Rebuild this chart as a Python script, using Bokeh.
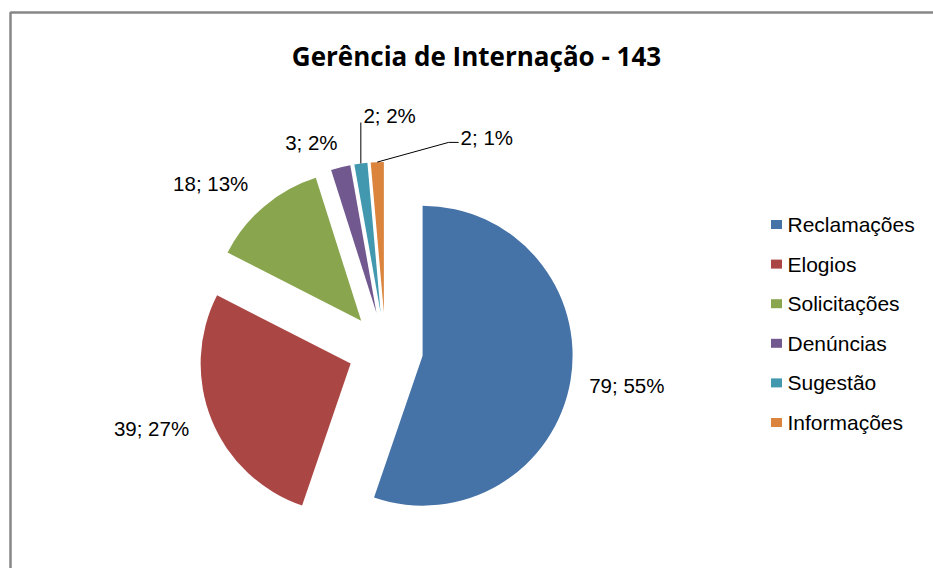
import numpy as np
from bokeh.plotting import figure
from bokeh.models import Range1d
from bokeh.core.properties import value
from bokeh.embed import file_html
from bokeh.resources import INLINE

# ---- data ----
categories = ["Reclamações", "Elogios", "Solicitações", "Denúncias", "Sugestão", "Informações"]
counts = [79, 39, 18, 3, 2, 2]
pct_labels = ["55%", "27%", "13%", "2%", "2%", "1%"]
colors = ["#4572A7", "#AA4643", "#89A54E", "#71588F", "#4198AF", "#DB843D"]
title_text = "Gerência de Internação - 143"

# ---- layout helpers (screen px -> data units, 1:1) ----
W, H = 933, 568
def X(sx):
    return sx
def Y(sy):
    return H - sy

p = figure(width=W, height=H, x_range=Range1d(0, W), y_range=Range1d(0, H),
           output_backend="svg", toolbar_location=None, min_border=0)
p.axis.visible = False
p.grid.visible = False
p.outline_line_color = None
p.background_fill_color = "white"
p.border_fill_color = "white"

# chart border (top and left visible, rest cropped)
p.line([X(10), X(10), X(945)], [Y(600), Y(12), Y(12)], line_color="#878787", line_width=2.5)

# ---- pie ----
vals = np.array(counts, dtype=float)
frac = vals / vals.sum()
cum = np.concatenate([[0.0], np.cumsum(frac)]) * 360.0
a0, a1 = cum[:-1], cum[1:]
mid = (a0 + a1) / 2.0
cx, cy = X(385), Y(349)
R = 150.0
D = 37.6
mrad = np.radians(mid)
ex = cx + D * np.sin(mrad)
ey = cy + D * np.cos(mrad)
p.wedge(x=list(ex), y=list(ey), radius=R,
        start_angle=list(np.radians(90 - a1)), end_angle=list(np.radians(90 - a0)),
        direction="anticlock", fill_color=colors, line_color=None)

# ---- data labels ----
labels = [f"{c}; {pc}" for c, pc in zip(counts, pct_labels)]
lab_theta = np.radians([98.5, 251.3, 313.5, 340.3, 354.6, 19.5])
lab_r = [244, 247, 241, 220, 235, 225]
lab_align = ["center", "center", "center", "center", "left", "left"]
lx = cx + np.array(lab_r) * np.sin(lab_theta)
ly = cy + np.array(lab_r) * np.cos(lab_theta)
for i in range(len(labels)):
    p.text(x=[lx[i]], y=[ly[i]], text=[labels[i]], text_font=value("Liberation Sans"),
           text_font_size="20.5px", text_align=lab_align[i], text_baseline="middle",
           text_color="#000000")

# leader lines for the two small slices
edge_x = ex + R * np.sin(mrad)
edge_y = ey + R * np.cos(mrad)
# Sugestão: vertical line up to the label's lower-left corner
p.line([edge_x[4], edge_x[4]], [edge_y[4], ly[4] - 7], line_color="#000000", line_width=1)
# Informações: slanted line then short horizontal to the label
p.line([edge_x[5], lx[5] - 12, lx[5] - 2], [edge_y[5], ly[5] - 5, ly[5] - 5],
       line_color="#000000", line_width=1)

# ---- title ----
p.text(x=[X(476)], y=[Y(55)], text=[title_text], text_font=value("Open Sans"),
       text_font_style="bold", text_font_size="26px", text_align="center",
       text_baseline="middle", text_color="#000000")

# ---- legend ----
n = len(categories)
leg_y = np.array([Y(224 + 39.6 * i) for i in range(n)])
p.rect(x=[X(776)] * n, y=list(leg_y), width=11, height=9, fill_color=colors, line_color=None)
p.text(x=[X(787)] * n, y=list(leg_y), text=categories, text_font=value("Liberation Sans"),
       text_font_size="21px", text_align="left", text_baseline="middle", text_color="#000000")

open("out.html", "w").write(file_html(p, INLINE))
